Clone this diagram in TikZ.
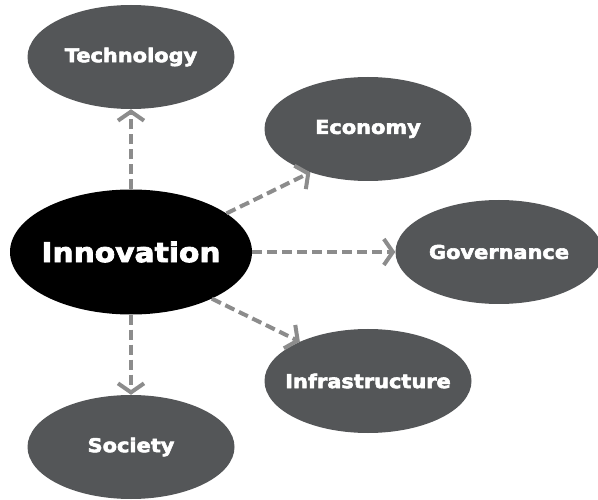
\documentclass[tikz,border=0pt]{standalone}
\usepackage{fontspec}
\usepackage{tikz}
\usetikzlibrary{arrows.meta,shapes.geometric}
\newfontfamily\bubblefont{DejaVu Sans Bold}[FakeStretch=1.1,FakeBold=3]
\definecolor{bubblegrey}{HTML}{545658}
\definecolor{linkgrey}{HTML}{8C8C8C}
% keep the label out of the ellipse size
\newcommand\bubbletext[1]{\makebox[0pt]{#1}}

\begin{document}
\begin{tikzpicture}[
  x=1pt,y=1pt,
  bubble/.style={ellipse,inner sep=0pt,minimum width=207pt,minimum height=104pt,fill=bubblegrey,text=white,font=\bubblefont\fontsize{19}{21}\selectfont},
  hub/.style={ellipse,inner sep=0pt,minimum width=242pt,minimum height=125pt,fill=black,text=white,font=\bubblefont\fontsize{27}{29}\selectfont},
  link/.style={-{Straight Barb[length=9pt,width=26pt]},draw=linkgrey,line width=4pt,dash pattern=on 10pt off 5pt}
]
\useasboundingbox (0,0) rectangle (598,499);
\node[hub] (inno) at (131,247) {\bubbletext{Innovation}};
\node[bubble] (tech) at (131,442) {\bubbletext{Technology}};
\node[bubble] (econ) at (368,370) {\bubbletext{Economy}};
\node[bubble] (gov) at (499,247) {\bubbletext{Governance}};
\node[bubble] (infra) at (368,118) {\bubbletext{Infrastructure}};
\node[bubble] (soc) at (131,52) {\bubbletext{Society}};
\draw[link] (inno) -- (tech);
\draw[link] (inno.22) -- (econ.217);
\draw[link] (inno) -- (gov);
\draw[link] (inno.-30) -- (infra.150);
\draw[link] (inno) -- (soc);
\end{tikzpicture}
\end{document}
